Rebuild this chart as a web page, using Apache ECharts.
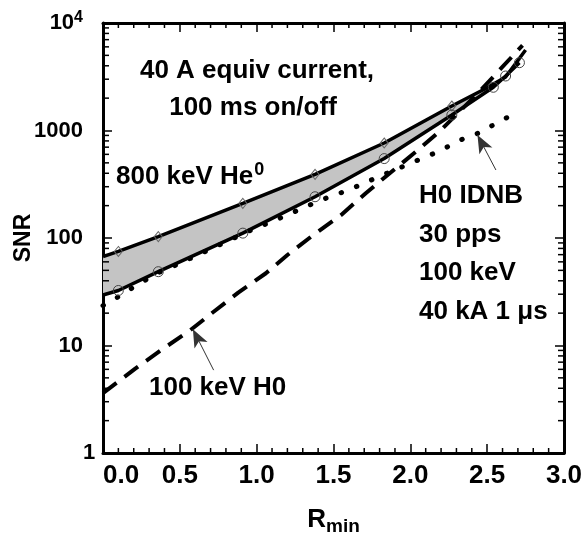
<!DOCTYPE html>
<html>
<head>
<meta charset="utf-8">
<script src="https://cdn.jsdelivr.net/npm/echarts@6/dist/echarts.min.js"></script>
<style>
  html, body { margin: 0; padding: 0; background: #fff; }
  #chart { width: 584px; height: 541px; }
</style>
</head>
<body>
<div id="chart"></div>
<script>
// --- data ---
// 800 keV He0, upper edge (diamonds)
const upperX = [0, 0.1, 0.36, 0.91, 1.38, 1.83, 2.27, 2.5, 2.62, 2.75]
const upperY = [67, 75, 103, 210, 391, 765, 1690, 2500, 3150, 5600]
// 800 keV He0, lower edge (circles)
const lowerX = [0, 0.1, 0.36, 0.91, 1.38, 1.83, 2.27, 2.54, 2.62, 2.71]
const lowerY = [29.5, 32.5, 48.6, 111, 242, 548, 1393, 2524, 3213, 4275]
// H0 IDNB (dotted)
const dottedX = [0, 0.1, 0.18, 0.26, 0.35, 0.43, 1.01, 1.1, 1.42, 1.6, 1.77, 2.0, 2.18, 2.35, 2.44, 2.6, 2.69]
const dottedY = [23.5, 28.4, 33.6, 39.2, 47, 52.3, 127, 142, 226, 280, 359, 495, 635, 846, 942, 1253, 1465]
// 100 keV H0 (dashed)
const dashedX = [0, 0.21, 0.38, 0.56, 0.72, 0.88, 1.06, 1.2, 1.37, 1.55, 1.71, 1.87, 2.05, 2.2, 2.45, 2.73]
const dashedY = [3.6, 6.1, 9.1, 13.6, 20.6, 31, 47, 69.5, 107, 164, 261, 405, 659, 1011, 2300, 6200]

// arrows (tail -> head), data coords
const arrowIDNB = [[2.557, 429], [2.437, 908]]
const arrowH0 = [[0.72, 5.9], [0.585, 14.2]]

// log minor ticks
const logMinorTicks = []
;[1, 10, 100, 1000].forEach((d) => {
  for (let k = 2; k <= 9; k++) logMinorTicks.push(k * d)
})
// linear minor ticks (x, every 0.1)
const xMinorTicks = []
for (let i = 1; i < 30; i++) if (i % 5 !== 0) xMinorTicks.push(i / 10)

const zip = (xs, ys) => xs.map((x, i) => [x, ys[i]])

const FONT = '"Liberation Sans", Arial, Helvetica, sans-serif'

const chart = echarts.init(document.getElementById('chart'))

const xAxisBase = {
  type: 'value',
  min: 0,
  max: 3,
  interval: 0.5,
  splitLine: { show: false },
  axisLine: { show: true, onZero: false, lineStyle: { color: '#000', width: 3 } },
  axisTick: { show: true, inside: true, length: 9, lineStyle: { color: '#000', width: 1.5 } },
}

const yAxisBase = {
  type: 'log',
  logBase: 10,
  min: 1,
  max: 10000,
  splitLine: { show: false },
  axisLine: { show: true, onZero: false, lineStyle: { color: '#000', width: 3 } },
  axisTick: { show: true, inside: true, length: 9, lineStyle: { color: '#000', width: 1.5 } },
}

// short tick segments drawn at the frame edges through the axis scales
const tickSeries = (values, horizontal) => ({
  type: 'custom',
  coordinateSystem: 'cartesian2d',
  silent: true,
  clip: false,
  z: 5,
  data: values.map((v) => (horizontal ? [v, 1] : [0, v])),
  renderItem: (params, api) => {
    const st = { stroke: '#000', lineWidth: 1.5 }
    if (horizontal) {
      const x = api.value(0)
      const b = api.coord([x, 1])
      const t = api.coord([x, 10000])
      return {
        type: 'group',
        children: [
          { type: 'line', shape: { x1: b[0], y1: b[1], x2: b[0], y2: b[1] - 5 }, style: st },
          { type: 'line', shape: { x1: t[0], y1: t[1], x2: t[0], y2: t[1] + 5 }, style: st },
        ],
      }
    }
    const v = api.value(1)
    const l = api.coord([0, v])
    const r = api.coord([3, v])
    return {
      type: 'group',
      children: [
        { type: 'line', shape: { x1: l[0], y1: l[1], x2: l[0] + 6, y2: l[1] }, style: st },
        { type: 'line', shape: { x1: r[0], y1: r[1], x2: r[0] - 6, y2: r[1] }, style: st },
      ],
    }
  },
})

const option = {
  animation: false,
  backgroundColor: '#fff',
  grid: { left: 103, right: 20, top: 23, bottom: 88, containLabel: false, outerBoundsMode: 'none' },
  xAxis: [
    {
      ...xAxisBase,
      position: 'bottom',
      axisLabel: {
        show: true,
        margin: 10,
        color: '#000',
        fontFamily: FONT,
        fontWeight: 'bold',
        fontSize: 26,
        alignMinLabel: 'left',
        formatter: (v) => v.toFixed(1),
      },
      name: '{r|R}{s|min}',
      nameLocation: 'middle',
      nameGap: 50,
      nameTextStyle: {
        rich: {
          r: { fontFamily: FONT, fontWeight: 'bold', fontSize: 26, color: '#000' },
          s: { fontFamily: FONT, fontWeight: 'bold', fontSize: 19, color: '#000', padding: [14, 0, 0, 0] },
        },
      },
    },
    {
      ...xAxisBase,
      position: 'top',
      axisLabel: { show: false },
    },
  ],
  yAxis: [
    {
      ...yAxisBase,
      position: 'left',
      axisLabel: {
        show: true,
        margin: 20,
        color: '#000',
        fontFamily: FONT,
        fontWeight: 'bold',
        fontSize: 22,
        alignMinLabel: 'bottom',
        formatter: (v) => (v >= 10000 ? '{b|10}{p|4}' : String(v)),
        rich: {
          b: { fontFamily: FONT, fontWeight: 'bold', fontSize: 22, color: '#000' },
          p: { fontFamily: FONT, fontWeight: 'bold', fontSize: 16, color: '#000', padding: [0, 0, 11, 0] },
        },
      },
      name: 'SNR',
      nameLocation: 'middle',
      nameRotate: 90,
      nameGap: 68,
      nameMoveOverlap: false,
      nameTextStyle: { fontFamily: FONT, fontWeight: 'bold', fontSize: 23, color: '#000' },
    },
    {
      ...yAxisBase,
      position: 'right',
      axisLabel: { show: false },
    },
  ],
  graphic: [
    {
      type: 'text',
      z: 50,
      style: {
        text: '40 A equiv current,',
        x: 257, y: 71,
        textAlign: 'center', textVerticalAlign: 'middle',
        font: 'bold 26px ' + FONT, fill: '#000',
      },
    },
    {
      type: 'text',
      z: 50,
      style: {
        text: '100 ms on/off',
        x: 253, y: 108,
        textAlign: 'center', textVerticalAlign: 'middle',
        font: 'bold 26px ' + FONT, fill: '#000',
      },
    },
    {
      type: 'text',
      z: 50,
      style: {
        text: '{a|800 keV He}{s|0}',
        x: 116, y: 177,
        textAlign: 'left', textVerticalAlign: 'middle',
        rich: {
          a: { font: 'bold 26px ' + FONT, fill: '#000' },
          s: { font: 'bold 18px ' + FONT, fill: '#000', padding: [0, 0, 14, 1] },
        },
      },
    },
    ...['H0 IDNB', '30 pps', '100 keV', '40 kA 1 μs'].map((t, i) => ({
      type: 'text',
      z: 50,
      style: {
        text: t,
        x: 419, y: 196 + i * 38.5,
        textAlign: 'left', textVerticalAlign: 'middle',
        font: 'bold 26px ' + FONT, fill: '#000',
      },
    })),
    {
      type: 'text',
      z: 50,
      style: {
        text: '100 keV H0',
        x: 149, y: 388,
        textAlign: 'left', textVerticalAlign: 'middle',
        font: 'bold 26px ' + FONT, fill: '#000',
      },
    },
  ],
  series: [
    // grey band between the two He0 curves
    {
      type: 'custom',
      coordinateSystem: 'cartesian2d',
      silent: true,
      z: 1,
      data: [[0, 1]],
      renderItem: (params, api) => {
        const top = upperX.map((x, i) => api.coord([x, upperY[i]]))
        const bot = lowerX.map((x, i) => api.coord([x, lowerY[i]])).reverse()
        return {
          type: 'polygon',
          shape: { points: top.concat(bot) },
          style: { fill: '#c4c4c4', stroke: null },
        }
      },
    },
    tickSeries(logMinorTicks, false),
    tickSeries(xMinorTicks, true),
    {
      name: '100 keV H0',
      type: 'line',
      z: 3,
      data: zip(dashedX, dashedY),
      symbol: 'none',
      lineStyle: { color: '#000', width: 4, type: [17, 10] },
      markLine: {
        silent: true,
        symbol: ['none', 'arrow'],
        symbolSize: [11, 18],
        label: { show: false },
        lineStyle: { color: '#333', width: 1, type: 'solid' },
        data: [[{ coord: arrowH0[0] }, { coord: arrowH0[1] }]],
      },
    },
    {
      name: 'H0 IDNB',
      type: 'line',
      z: 3,
      data: zip(dottedX, dottedY),
      symbol: 'none',
      lineStyle: { color: '#000', width: 5, type: [0.5, 16], cap: 'round' },
      markLine: {
        silent: true,
        symbol: ['none', 'arrow'],
        symbolSize: [11, 18],
        label: { show: false },
        lineStyle: { color: '#333', width: 1, type: 'solid' },
        data: [[{ coord: arrowIDNB[0] }, { coord: arrowIDNB[1] }]],
      },
    },
    {
      name: 'He0 upper',
      type: 'line',
      z: 4,
      data: zip(upperX, upperY),
      showAllSymbol: true,
      symbol: (v, p) => (p.dataIndex >= 1 && p.dataIndex <= 6 ? 'diamond' : 'none'),
      symbolSize: [8, 10],
      itemStyle: { color: 'rgba(0,0,0,0)', borderColor: '#666', borderWidth: 1 },
      lineStyle: { color: '#000', width: 3.5 },
    },
    {
      name: 'He0 lower',
      type: 'line',
      z: 4,
      data: zip(lowerX, lowerY),
      showAllSymbol: true,
      symbol: (v, p) => (p.dataIndex >= 1 ? 'circle' : 'none'),
      symbolSize: 10,
      itemStyle: { color: 'rgba(0,0,0,0)', borderColor: '#444', borderWidth: 1 },
      lineStyle: { color: '#000', width: 3.5 },
    },
  ],
}

chart.setOption(option)
window.addEventListener('resize', () => chart.resize())
</script>
</body>
</html>
